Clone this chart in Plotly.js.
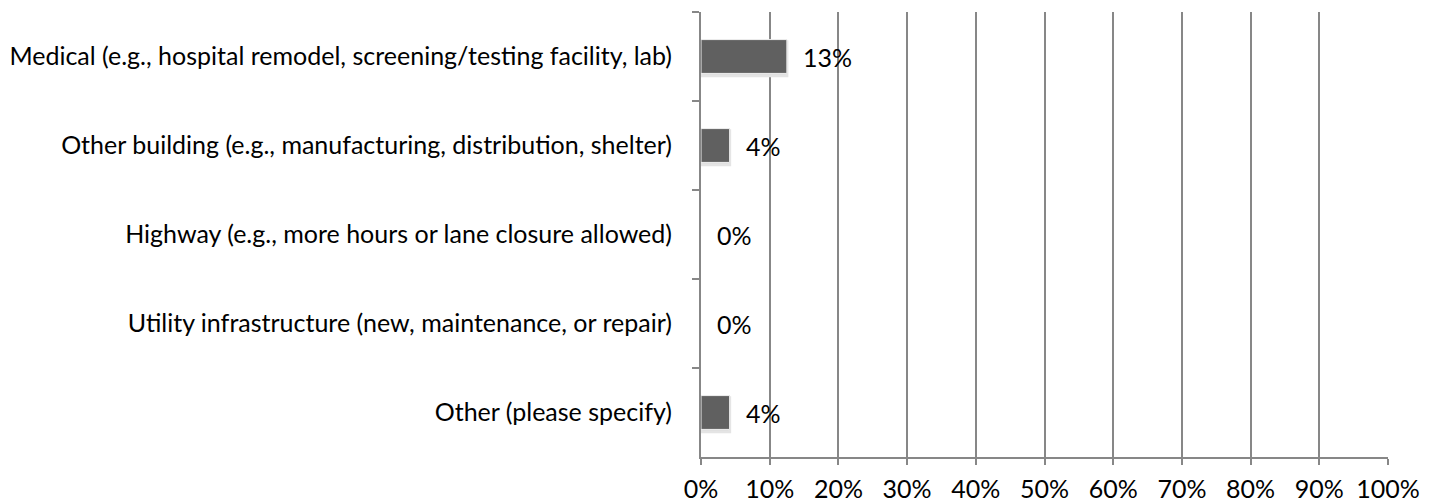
<!DOCTYPE html>
<html>
<head>
<meta charset="utf-8">
<script src="https://cdn.plot.ly/plotly-3.0.1.min.js"></script>
<style>html,body{margin:0;padding:0;background:#fff;}#chart{width:1435px;height:504px;}</style>
</head>
<body>
<div id="chart"></div>
<script>
const categories = [
  "Medical (e.g., hospital remodel, screening/testing facility, lab)",
  "Other building (e.g., manufacturing, distribution, shelter)",
  "Highway (e.g., more hours or lane closure allowed)",
  "Utility infrastructure (new, maintenance, or repair)",
  "Other (please specify)"
];
const values = [12.5, 4.17, 0, 0, 4.17];
const valueLabels = ["13%", "4%", "0%", "0%", "4%"];
const tickVals = [0,10,20,30,40,50,60,70,80,90,100];
const tickText = ["0%","10%","20%","30%","40%","50%","60%","70%","80%","90%","100%"];

const FONT = "Lato, 'Open Sans', sans-serif";
const GRID = "#878787";

const shadow = {
  type: "bar",
  orientation: "h",
  y: categories,
  x: values,
  width: 0.38,
  offset: -0.165,
  marker: {color: "#d6d6d6", line: {color: "#e4e4e4", width: values.map(v => v > 0 ? 3 : 0)}},
  hoverinfo: "skip"
};

const trace = {
  type: "bar",
  orientation: "h",
  y: categories,
  x: values,
  width: 0.38,
  offset: -0.19,
  marker: {color: "#606060", line: {color: "#f0f0f0", width: values.map(v => v > 0 ? 1 : 0)}},
  hoverinfo: "skip"
};

const annotations = categories.map((c, i) => ({
  x: values[i], y: c, xref: "x", yref: "y",
  text: valueLabels[i], showarrow: false,
  xanchor: "left", xshift: 14,
  font: {family: FONT, size: 25, color: "#000"}
}));

const layout = {
  width: 1435, height: 504,
  margin: {l: 701, r: 47, t: 12, b: 47, pad: 0},
  paper_bgcolor: "#fff", plot_bgcolor: "#fff",
  showlegend: false, barmode: "overlay",
  font: {family: FONT, size: 25, color: "#000"},
  xaxis: {
    range: [0, 100], tickvals: tickVals, ticktext: tickText,
    showgrid: true, gridcolor: GRID, gridwidth: 2,
    zeroline: false, showline: true, linecolor: GRID, linewidth: 2,
    ticks: "outside", ticklen: 6, tickcolor: GRID, tickwidth: 2,
    ticklabelstandoff: 3, fixedrange: true
  },
  yaxis: {
    type: "category", autorange: "reversed",
    showgrid: false, zeroline: false, showline: true, linecolor: GRID, linewidth: 2,
    ticks: "outside", tickson: "boundaries", ticklen: 7, tickcolor: GRID, tickwidth: 2,
    ticklabelstandoff: 22, fixedrange: true
  },
  annotations: annotations
};

Plotly.newPlot("chart", [shadow, trace], layout, {staticPlot: true, displayModeBar: false});
</script>
</body>
</html>
